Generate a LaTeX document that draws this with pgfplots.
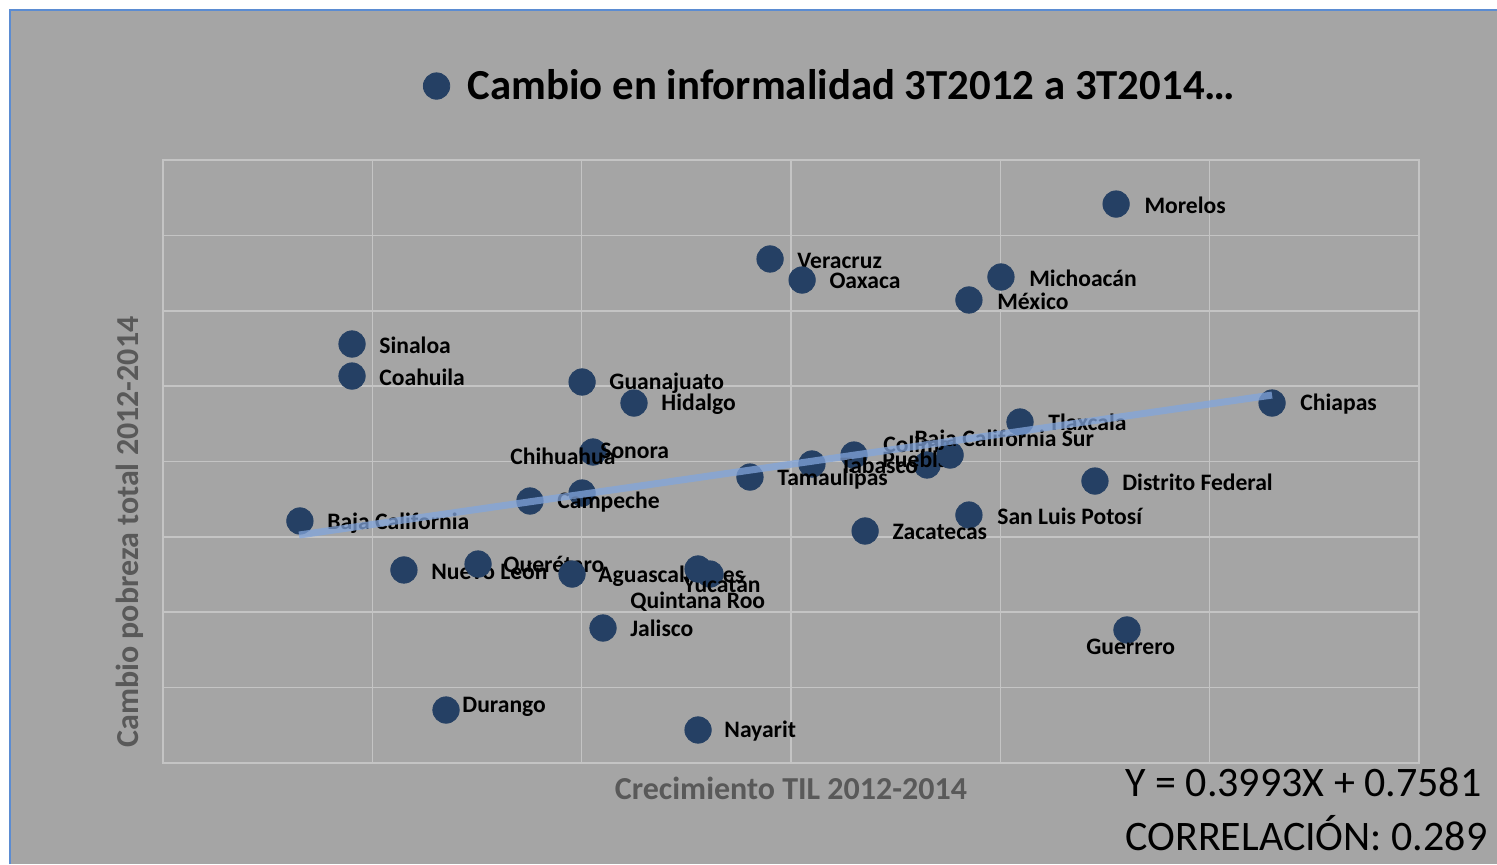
\documentclass[border=0pt]{standalone}
\usepackage{pgfplots}
\pgfplotsset{compat=1.18}
\usepackage{pgfplotstable}
\usepackage{fontspec}
\setmainfont{Carlito}
\definecolor{bgc}{RGB}{165,165,165}
\definecolor{gridc}{RGB}{196,196,196}
\definecolor{dotc}{RGB}{37,64,100}
\definecolor{trendc}{RGB}{130,165,220}
\definecolor{bordc}{RGB}{91,140,210}
\definecolor{labc}{RGB}{89,89,89}
\pgfplotstableread{
x y dx dy label
4.553 7.416 14 -0.5 Morelos
2.900 6.687 13.5 -1 Veracruz
3.053 6.408 13.5 -0.5 Oaxaca
4.003 6.448 14 -0.5 Michoacán
3.850 6.143 14 -0.5 México
0.903 5.559 13.5 -0.5 Sinaloa
0.903 5.134 13.5 -0.5 Coahuila
2.002 5.055 13.5 -0.5 Guanajuato
2.250 4.776 13.5 -0.5 Hidalgo
5.298 4.776 14 -0.5 Chiapas
4.094 4.524 14 0 Tlaxcala
3.650 3.954 -22 10.5 Colima
3.301 4.086 14 -2 Puebla
3.760 4.086 -18 7.5 {Baja California Sur}
3.100 3.967 14 -0.5 Tabasco
2.804 3.794 13.5 -1 Tamaulipas
4.452 3.741 13.5 -0.5 {Distrito Federal}
3.850 3.290 14 -0.5 {San Luis Potosí}
3.354 3.078 13.5 -0.5 Zacatecas
2.054 4.126 3.5 0.5 Sonora
2.002 3.582 -36 18.5 Chihuahua
1.753 3.476 13.5 -0.5 Campeche
0.654 3.211 13.5 -1 {Baja California}
1.151 2.561 13.5 -0.5 {Nuevo León}
1.505 2.640 12.5 -1 Querétaro
1.954 2.507 13 -1 Aguascalientes
2.613 2.507 -13.5 -5 Yucatán
2.556 2.574 -34 -16.5 {Quintana Roo}
2.102 1.791 13.5 0 Jalisco
4.605 1.765 -20.5 -8.5 Guerrero
1.352 0.703 8 1.5 Durango
2.556 0.438 13 -0.5 Nayarit
}\datatable
\begin{document}
\begin{tikzpicture}
\path[use as bounding box] (-81.5pt,-50.5pt) rectangle (667pt,381.5pt);
\fill[white] (-81.5pt,-50.5pt) rectangle (667pt,381.5pt);
\fill[bgc] (-76.5pt,-50.5pt) rectangle (667pt,376.5pt);
\draw[bordc, line width=1pt] (-76.5pt,-50.5pt) -- (-76.5pt,376.5pt) -- (667pt,376.5pt);
\begin{axis}[
  at={(0,0)}, anchor=south west,
  scale only axis, width=628pt, height=301.5pt,
  xmin=0, xmax=6, ymin=0, ymax=8,
  xtick={1,2,3,4,5}, ytick={1,2,3,4,5,6,7},
  xticklabels={}, yticklabels={},
  major tick length=0pt,
  grid=major,
  grid style={gridc, line width=0.8pt},
  axis line style={gridc, line width=0.8pt},
  clip=false,
  xlabel={Crecimiento TIL 2012-2014},
  ylabel={Cambio pobreza total 2012-2014},
  every axis x label/.style={at={(axis description cs:0.5,0)}, anchor=center, yshift=-12.5pt, font=\bfseries\fontsize{16}{19}\selectfont, text=labc},
  every axis y label/.style={at={(axis description cs:0,0.383)}, anchor=center, rotate=90, yshift=16.5pt, font=\bfseries\fontsize{16}{19}\selectfont, text=labc},
  legend style={at={(axis description cs:0.532,1.1227)}, anchor=center, draw=none, fill=none, font=\bfseries\fontsize{21.4}{25}\selectfont, /tikz/column sep=7pt},
]
\addlegendimage{only marks, mark=*, mark size=6.6pt, color=dotc}
\addlegendentry{Cambio en informalidad 3T2012 a 3T2014…}
\addplot[only marks, mark=*, mark size=6.6pt, color=dotc, forget plot,
  point meta=explicit symbolic,
  visualization depends on={\thisrow{dx} \as \dx},
  visualization depends on={\thisrow{dy} \as \dy},
  nodes near coords,
  every node near coord/.append style={anchor=west, inner sep=0pt, xshift=\dx pt, yshift=\dy pt, text=black, font=\bfseries\fontsize{11.8}{14}\selectfont},
] table[x=x, y=y, meta=label] {\datatable};
\end{axis}
\begin{axis}[
  at={(0,0)}, anchor=south west,
  scale only axis, width=628pt, height=301.5pt,
  xmin=0, xmax=6, ymin=0, ymax=8,
  hide axis, clip=false,
]
\addplot[trendc, opacity=0.75, line width=3.5pt] coordinates {(0.650,3.025) (5.298,4.882)};
\end{axis}
\node[anchor=west, inner sep=0pt, font=\fontsize{21}{25}\selectfont] at (481pt,-9.5pt) {Y = 0.3993X + 0.7581};
\node[anchor=west, inner sep=0pt, font=\fontsize{21}{25}\selectfont] at (481pt,-35pt) {CORRELACIÓN: 0.289};
\end{tikzpicture}
\end{document}
